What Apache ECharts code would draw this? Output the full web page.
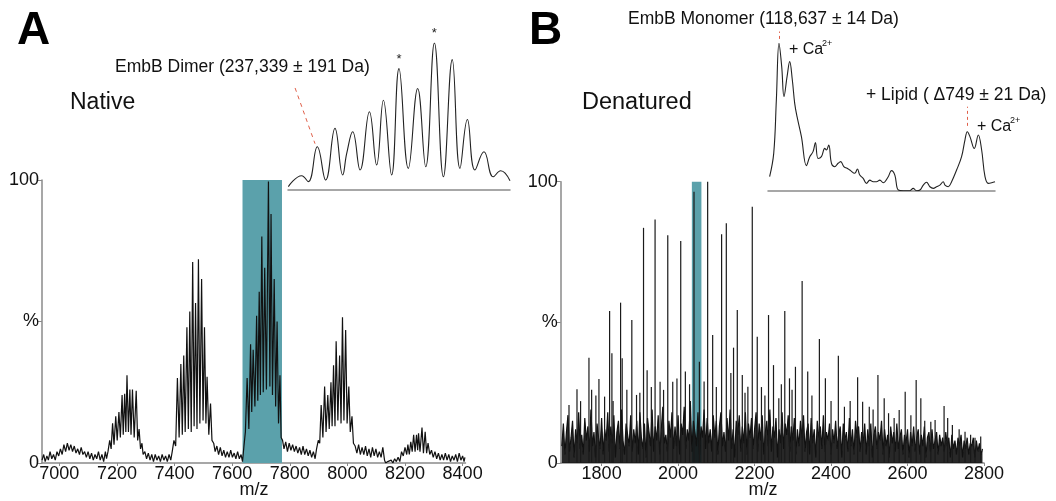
<!DOCTYPE html>
<html><head><meta charset="utf-8">
<script src="https://cdn.jsdelivr.net/npm/echarts@6/dist/echarts.min.js"></script>
<style>html,body{margin:0;padding:0;background:#fff}#c{width:1056px;height:501px}</style>
</head><body><div id="c"></div>
<script>
// ---------- DATA ----------
const xTicksA = [7000,7200,7400,7600,7800,8000,8200,8400];
const xTicksB = [1800,2000,2200,2400,2600,2800];
const yTickLabels = ['0','%','100'];
const tealA = [7636, 7773];
const tealB = [2036, 2061];

// Panel A native spectrum [m/z, %]
const spectrumA = [
[6940,1],[6946,3],[6951,0.5],[6957,2.5],[6962,1],[6968,4],[6974,1.5],[6980,3],[6986,1],[6992,4],[6998,2.5],[7004,5],[7010,3],[7016,6.5],[7022,4],[7028,7],[7034,4.5],[7040,6.5],[7046,4],[7052,6],[7058,3.5],[7064,5],[7070,3],[7076,5.5],[7082,3],[7088,4],[7094,2],[7100,4],[7106,1.5],[7112,3.5],[7118,1],[7124,3],[7130,1.5],[7136,4],[7142,1],[7148,3],[7154,0.5],[7160,4],[7164,1.5],
[7169,4],[7175,8],[7180,5],[7185,14],[7190,6.5],[7196,16.5],[7201,8],[7207,18],[7212,9],[7218,24],[7222,10],[7227,24.5],[7231,11],[7235,31],[7240,11],[7245,26],[7249,10],[7254,26],[7260,9],[7267,25.5],[7272,8],[7277,12],[7282,5],[7287,7],[7291,3],
[7297,4],[7303,1.5],[7309,3.5],[7315,1],[7321,3],[7327,0.5],[7333,3],[7339,1],[7345,2.5],[7351,0.5],[7357,3],[7363,1],[7369,2.5],[7375,0.5],[7381,3],[7387,1],[7392,4],
[7398,8],[7404,6],[7410,30],[7416,9],[7422,35],[7427,10],[7432,38],[7437,11],[7443,48],[7448,12],[7453,53.5],[7458,11],[7463,71],[7468,13],[7473,56.5],[7478,12],[7483,72],[7488,14],[7494,65],[7499,15],[7504,48],[7509,14],[7513,30.5],[7519,10],[7525,21],[7530,8],[7536,7],[7541,4],
[7547,6],[7553,3],[7559,5.5],[7565,2.5],[7571,4.5],[7577,2],[7583,4],[7589,2],[7595,4.5],[7601,2],[7607,3.5],[7613,1.5],[7619,4],[7625,1.5],[7631,3],[7636,0.5],
[7641,6],[7646,11],[7652,30],[7658,12],[7664,42],[7668,18],[7673,40],[7679,20],[7685,52],[7689,22],[7694,60.5],[7698,24],[7703,80],[7708,25],[7713,69],[7719,26],[7726,99.5],[7731,27],[7735,88],[7740,24],[7746,65],[7751,20],[7756,50],[7761,14],[7766,31],[7770,9],[7775,8],
[7780,5],[7786,7.5],[7792,4],[7798,7],[7804,4.5],[7810,6.5],[7816,4],[7822,6],[7828,3.5],[7834,5.5],[7840,3],[7846,6],[7852,3],[7858,5],[7864,2.5],[7870,4.5],[7876,2],[7882,4],[7888,1.5],[7893,5],
[7899,8],[7904,7],[7909,20.5],[7915,9],[7921,27],[7926,11],[7932,24],[7937,12],[7943,28.5],[7947,13],[7952,34.5],[7957,13],[7961,43],[7967,15],[7973,38],[7978,14],[7983,51.5],[7988,15],[7994,47],[7999,14],[8005,27],[8010,11],[8016,16.5],[8021,7],
[8027,6],[8033,3.5],[8039,6.5],[8045,3],[8051,5.5],[8057,3],[8063,6],[8069,2.5],[8075,5],[8081,2],[8087,5.5],[8093,2.5],[8099,5],[8105,2],[8111,4],[8117,2],[8123,5.5],[8129,1],[8133,0],[8140,0.5],[8146,0],[8152,1],[8158,0],[8164,1.5],[8170,0.5],[8176,2],[8182,0.5],
[8188,4],[8194,2.5],[8200,5.5],[8206,3],[8210,6.5],[8215,3],[8220,7.5],[8225,4],[8230,10],[8235,4],[8240,10],[8244,4.5],[8247,10.5],[8252,4],[8259,12.5],[8264,3.5],[8270,11],[8275,3.5],[8280,7],[8286,3],
[8292,4.5],[8298,2],[8304,4],[8310,1.5],[8316,3.5],[8322,1],[8328,3],[8334,1],[8340,3.5],[8346,1],[8352,3],[8358,0.5],[8364,2.5],[8370,1],[8376,3],[8382,0.5],[8388,3.5],[8394,1],[8400,2.5],[8405,0.5],[8408,2]
];

// Panel A inset (zoom of shaded charge state) [m/z, relative %]
const insetA = [
[7634.2,2.3],[7642.5,9.7],[7646.6,5.7],[7652.2,29.4],[7657.4,6.8],[7663.2,41.9],[7668,10.2],[7670.5,24.9],[7674.2,39.6],[7678.8,13.6],[7684.6,53.2],[7689.1,17],[7693.3,61.1],[7698.4,10.2],[7703,82.6],[7708.8,14.7],[7714.6,69],[7719.6,15.8],[7725,100],[7730.6,9],[7736.1,88.7],[7740.9,14.7],[7745.5,48],[7750.2,13.6],[7755.8,26],[7761.6,9],[7766.2,13.1],[7772,6.3]
];
const starPeaksA = [[7703,82.6],[7725,100]];

// Panel B denatured: noise trace sampled every 4 m/z from 1696
const noiseStartB = 1696, noiseStepB = 4;
const noiseB = [
6,14,3,11,17,4,9,15,2,12,7,18,5,10,3,16,8,13,4,19,6,11,2,14,9,
5,16,3,12,8,18,4,13,7,17,2,11,15,5,19,8,3,14,10,6,17,4,12,7,15,
3,18,9,5,14,2,16,11,6,19,4,13,8,17,3,12,20,7,10,4,15,9,18,5,13,
6,17,3,14,10,20,5,12,8,22,4,15,11,6,18,3,13,9,19,5,16,7,12,4,17,
9,15,3,13,18,6,11,4,16,8,19,5,12,2,15,10,17,4,13,7,18,3,14,9,16,
5,12,18,4,14,8,17,3,11,15,6,19,4,13,9,16,2,12,7,18,5,14,10,17,4,
13,8,16,3,12,6,15,9,17,4,11,14,3,16,7,12,2,15,9,13,5,17,4,11,8,
14,3,12,7,15,5,10,13,2,14,8,11,4,16,6,12,3,15,9,13,4,11,7,14,3,
12,6,14,2,10,13,5,11,8,15,3,12,6,10,2,13,7,11,4,14,5,9,12,3,10,
7,12,2,11,6,13,4,9,12,3,10,6,13,2,9,11,4,12,5,8,11,3,10,6,9,
4,11,6,9,2,10,5,8,3,9,6,10,2,8,5,9,3,7,6,9,2,8,4,7,3,
5
];
// Panel B charge-state spikes [m/z, %]
const spikesB = [
[1714.7,20.6],[1735.6,26.2],[1745,22],[1766.9,37.4],[1773.9,26],[1785,24],[1793,29.9],[1807.8,23.6],[1820.9,54],[1826.9,39],[1830,22],[1849.6,57],[1853.8,37.2],[1866,26],[1879,50.8],[1891.3,24.2],[1900,25],[1909.6,83.6],[1919,33],[1930,27],[1939.8,86.6],[1952.9,28.9],[1962,26],[1973,81],[1986,28.9],[1997,30],[2006.9,78.9],[2019,32.5],[2030,28],[2041.6,96.4],[2055.7,36],[2068,29],[2077.3,100],[2090.4,45.5],[2100,27],[2113.8,81.3],[2126.1,85.2],[2138,32],[2145,41],[2154.8,54.4],[2167.9,31.3],[2175,25],[2182.5,27.1],[2194,91.1],[2207,44.9],[2218,27],[2227,24],[2236.5,52.6],[2249.5,34.8],[2263.4,23],[2270,28],[2279,54],[2291.3,30.1],[2298,26],[2306.9,34.2],[2324.4,64.7],[2339,32.5],[2350,24],[2369.5,44.1],[2385.2,30.1],[2400,22],[2419.1,38.1],[2435,20],[2450,22],[2469.5,30.5],[2482.6,21.8],[2500,20],[2510,19],[2522.6,31.3],[2539,23],[2550.4,17.7],[2565,16],[2578.2,18.8],[2593.9,25.3],[2608.8,17],[2622.6,29.5],[2634.8,23],[2645,15],[2660.9,14.7],[2672.1,15.3],[2695.6,20.3],[2705,16],[2717.3,13.5],[2735,12],[2750.4,11.1],[2765,10],[2776.5,9],[2791.4,9.4]
];
// Panel B inset (zoom of shaded peak) [m/z, relative %]
const insetB = [
[2036.18,9.5],[2036.63,25.3],[2036.92,61.5],[2037.21,100],[2037.51,84.2],[2037.76,63.8],[2038.1,77.4],[2038.39,87.6],[2038.68,75.1],[2038.94,59.3],[2039.2,50.2],[2039.68,36.7],[2040.23,17],[2040.6,23.1],[2040.96,26.5],[2041.22,32.6],[2041.51,21.9],[2041.88,23.1],[2042.25,28.7],[2042.43,27.6],[2042.69,31],[2042.99,18.6],[2043.35,16.3],[2043.72,18.6],[2044.01,19.7],[2044.35,16.3],[2044.71,15.2],[2045.01,14],[2045.56,11.8],[2045.85,14.7],[2046.11,10.6],[2046.48,8.4],[2046.85,5],[2047.21,7.2],[2047.58,6.1],[2047.95,6.1],[2048.32,7.2],[2048.68,5.4],[2049.24,9.5],[2049.6,13.6],[2049.97,10.6],[2050.34,0.5],[2050.89,0],[2051.62,0],[2051.99,1.6],[2052.36,0],[2052.73,0.5],[2053.1,3.8],[2053.46,5.7],[2053.83,2.7],[2054.2,1.6],[2054.57,2.7],[2054.93,3.8],[2055.3,6.1],[2055.49,3.8],[2055.85,2.7],[2056.22,6.1],[2056.77,14],[2057.32,23.1],[2057.69,34.4],[2057.95,40],[2058.24,36.7],[2058.72,28.7],[2059.16,37.8],[2059.53,27.6],[2059.9,9.5],[2060.26,5],[2060.63,5.4],[2061,6.1]
];

// ---------- CHART ----------
const FONT = "'Liberation Sans', Arial, sans-serif";
const AX = '#8a8a8a';
const chart = echarts.init(document.getElementById('c'), null, {renderer:'canvas'});
const noiseData = noiseB.map((v,i)=>[noiseStartB + i*noiseStepB, v]);

function mainY(idx){
  return {gridIndex:idx, type:'value', min:0, max:100, interval:50,
    axisLine:{show:true, lineStyle:{color:AX, width:1.5}},
    axisTick:{show:true, length:4, lineStyle:{color:AX}},
    splitLine:{show:false},
    axisLabel:{color:'#111', fontSize:18, fontFamily:FONT, margin:3, formatter:v=>yTickLabels[Math.round(v/50)]}};
}
function mainX(idx,min,max,ticks){
  return {gridIndex:idx, type:'value', min:min, max:max,
    axisLine:{show:true, onZero:false, lineStyle:{color:AX, width:1.5}},
    axisTick:{show:true, length:3, customValues:ticks, lineStyle:{color:AX}},
    splitLine:{show:false},
    axisLabel:{color:'#111', fontSize:18, fontFamily:FONT, margin:2, customValues:ticks, formatter:v=>String(v)}};
}
function insetX(idx,min,max){
  return {gridIndex:idx, type:'value', min:min, max:max,
    axisLine:{show:true, onZero:false, lineStyle:{color:'#8a8a8a', width:1.5}},
    axisTick:{show:false}, axisLabel:{show:false}, splitLine:{show:false}};
}
function insetY(idx,max){
  return {gridIndex:idx, type:'value', min:0, max:max, show:false, splitLine:{show:false}};
}

const option = {
  animation:false,
  backgroundColor:'#fff',
  grid:[
    {left:42, top:180, width:423.5, height:283},
    {left:288, top:43, width:222, height:147},
    {left:560.7, top:181.7, width:423.3, height:281.3},
    {left:768, top:28.6, width:227, height:162.1}
  ],
  xAxis:[ mainX(0,6940,8410,xTicksA), insetX(1,7634,7772), mainX(2,1693,2800,xTicksB), insetX(3,2036,2061) ],
  yAxis:[ mainY(0), insetY(1,100), mainY(2), insetY(3,110) ],
  series:[
    {type:'line', xAxisIndex:0, yAxisIndex:0, data:[], z:1, silent:true,
     markArea:{silent:true, itemStyle:{color:'#5ba1ab', opacity:1}, data:[[{coord:[tealA[0],0]},{coord:[tealA[1],100]}]]}},
    {type:'line', xAxisIndex:0, yAxisIndex:0, data:spectrumA, z:3, symbol:'none',
     lineStyle:{color:'#111', width:1.2}},
    {type:'line', xAxisIndex:1, yAxisIndex:1, data:insetA, z:3, symbol:'none', smooth:0.45,
     lineStyle:{color:'#222', width:1.1},
     markLine:{silent:true, symbol:'none', label:{show:false},
       lineStyle:{color:'#e0604a', type:[4,4], width:1},
       data:[[{coord:[7638.4,69.4]},{coord:[7650.8,31.5]}]]},
     markPoint:{silent:true, symbol:'circle', symbolSize:0,
       label:{show:true, formatter:'*', color:'#222', fontSize:13, fontFamily:FONT, position:'top', distance:3},
       data:starPeaksA.map(p=>({coord:p}))}},
    {type:'line', xAxisIndex:2, yAxisIndex:2, data:noiseData, z:1, symbol:'none',
     lineStyle:{color:'#111', width:1.2}, areaStyle:{color:'#111', opacity:0.9}},
    {type:'line', xAxisIndex:2, yAxisIndex:2, data:[], z:2, silent:true,
     markArea:{silent:true, itemStyle:{color:'#5ba1ab', opacity:1}, data:[[{coord:[tealB[0],0]},{coord:[tealB[1],100]}]]}},
    {type:'bar', xAxisIndex:2, yAxisIndex:2, data:spikesB, z:3, barWidth:1.2,
     itemStyle:{color:'#1a1a1a'}},
    {type:'line', xAxisIndex:3, yAxisIndex:3, data:insetB, z:3, symbol:'none', smooth:0.4,
     lineStyle:{color:'#222', width:1.1},
     markLine:{silent:true, symbol:'none', label:{show:false},
       lineStyle:{color:'#e0604a', type:[3,3], width:1},
       data:[[{coord:[2037.21,103]},{coord:[2037.21,108]}],[{coord:[2057.9,44]},{coord:[2057.9,57]}]]}}
  ],
  graphic:[
    {type:'text', style:{text:'A', x:17, y:31, textVerticalAlign:'middle', font:"bold 46px "+FONT, fill:'#000'}},
    {type:'text', style:{text:'B', x:529, y:31, textVerticalAlign:'middle', font:"bold 46px "+FONT, fill:'#000'}},
    {type:'text', style:{text:'Native', x:70, y:103, textVerticalAlign:'middle', font:"23px "+FONT, fill:'#111'}},
    {type:'text', style:{text:'Denatured', x:582, y:103, textVerticalAlign:'middle', font:"23.5px "+FONT, fill:'#111'}},
    {type:'text', style:{text:'EmbB Dimer (237,339 ± 191 Da)', x:115, y:67, textVerticalAlign:'middle', font:"17.5px "+FONT, fill:'#111'}},
    {type:'text', style:{text:'EmbB Monomer (118,637 ± 14 Da)', x:628, y:19, textVerticalAlign:'middle', font:"17.5px "+FONT, fill:'#111'}},
    {type:'text', style:{text:'+ Ca', x:789, y:50, textVerticalAlign:'middle', font:"16px "+FONT, fill:'#111'}},
    {type:'text', style:{text:'2+', x:822, y:44, textVerticalAlign:'middle', font:"9px "+FONT, fill:'#111'}},
    {type:'text', style:{text:'+ Lipid ( Δ749 ± 21 Da)', x:866, y:95, textVerticalAlign:'middle', font:"17.5px "+FONT, fill:'#111'}},
    {type:'text', style:{text:'+ Ca', x:977, y:127, textVerticalAlign:'middle', font:"16px "+FONT, fill:'#111'}},
    {type:'text', style:{text:'2+', x:1010, y:121, textVerticalAlign:'middle', font:"9px "+FONT, fill:'#111'}},
    {type:'text', style:{text:'m/z', x:254, y:490, textAlign:'center', textVerticalAlign:'middle', font:"18px "+FONT, fill:'#111'}},
    {type:'text', style:{text:'m/z', x:763, y:490, textAlign:'center', textVerticalAlign:'middle', font:"18px "+FONT, fill:'#111'}}
  ]
};
chart.setOption(option);
</script></body></html>
